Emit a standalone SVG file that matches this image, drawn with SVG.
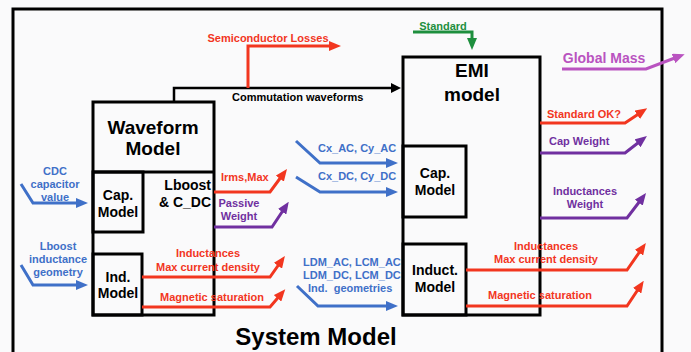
<svg xmlns="http://www.w3.org/2000/svg" width="691" height="352" viewBox="0 0 691 352">
<style>
text{font-family:"Liberation Sans",Arial,sans-serif;font-weight:bold}
.box{fill:none;stroke:#000;stroke-width:3}
.big{font-size:19px;fill:#000}
.mid{font-size:14px;fill:#000}
.sm{font-size:11px}
.c{text-anchor:middle}
.e{text-anchor:end}
.red{fill:#f2361f}.blue{fill:#3f70c8}.pur{fill:#7030a0}.mag{fill:#b953c0}.grn{fill:#1e8f3e}.blk{fill:#000}
.lr{fill:none;stroke:#f2361f;stroke-width:3;marker-end:url(#ar)}
.lb{fill:none;stroke:#3f70c8;stroke-width:3;marker-end:url(#ab)}
.lp{fill:none;stroke:#7030a0;stroke-width:3;marker-end:url(#ap)}
.lm{fill:none;stroke:#b953c0;stroke-width:3;marker-end:url(#am)}
.lg{fill:none;stroke:#1e8f3e;stroke-width:3;marker-end:url(#ag)}
.lk{fill:none;stroke:#000;stroke-width:2.5;marker-end:url(#ak)}
</style>
<defs>
<marker id="ar" markerUnits="userSpaceOnUse" markerWidth="12" markerHeight="10" refX="7" refY="5" orient="auto"><path d="M0,0 L12,5 L0,10 z" fill="#f2361f"/></marker>
<marker id="ab" markerUnits="userSpaceOnUse" markerWidth="12" markerHeight="10" refX="7" refY="5" orient="auto"><path d="M0,0 L12,5 L0,10 z" fill="#3f70c8"/></marker>
<marker id="ap" markerUnits="userSpaceOnUse" markerWidth="12" markerHeight="10" refX="7" refY="5" orient="auto"><path d="M0,0 L12,5 L0,10 z" fill="#7030a0"/></marker>
<marker id="am" markerUnits="userSpaceOnUse" markerWidth="12" markerHeight="10" refX="7" refY="5" orient="auto"><path d="M0,0 L12,5 L0,10 z" fill="#b953c0"/></marker>
<marker id="ag" markerUnits="userSpaceOnUse" markerWidth="12" markerHeight="10" refX="7" refY="5" orient="auto"><path d="M0,0 L12,5 L0,10 z" fill="#1e8f3e"/></marker>
<marker id="ak" markerUnits="userSpaceOnUse" markerWidth="10" markerHeight="10" refX="6" refY="5" orient="auto"><path d="M0,0 L10,5 L0,10 z" fill="#000"/></marker>
</defs>
<rect x="0" y="0" width="691" height="352" fill="#fafafb"/>
<g id="system">
<rect class="box" x="13" y="9" width="649" height="370"/>
<text class="c" x="316" y="345" style="font-size:24px">System Model</text>
</g>
<g id="waveform-model">
<rect class="box" x="93" y="102" width="121" height="213"/>
<line class="box" x1="93" y1="172" x2="214" y2="172"/>
<text class="big c" x="153" y="134">Waveform</text>
<text class="big c" x="153" y="155">Model</text>
<text class="mid e" x="211" y="190">Lboost</text>
<text class="mid e" x="211" y="207">&amp; C_DC</text>
</g>
<g id="wf-cap-model">
<rect class="box" x="93" y="172" width="50" height="60"/>
<text class="mid c" x="118" y="200">Cap.</text>
<text class="mid c" x="118" y="217">Model</text>
</g>
<g id="wf-ind-model">
<rect class="box" x="93" y="254" width="49" height="61"/>
<text class="mid c" x="118" y="282">Ind.</text>
<text class="mid c" x="118" y="298">Model</text>
</g>
<g id="emi-model">
<rect class="box" x="403" y="57" width="137" height="258"/>
<text class="big c" x="472" y="77">EMI</text>
<text class="big c" x="472" y="101">model</text>
</g>
<g id="emi-cap-model">
<rect class="box" x="403" y="146" width="63" height="71"/>
<text class="mid c" x="435" y="178">Cap.</text>
<text class="mid c" x="435" y="195">Model</text>
</g>
<g id="emi-induct-model">
<rect class="box" x="403" y="244" width="63" height="71"/>
<text class="mid c" x="435" y="275">Induct.</text>
<text class="mid c" x="435" y="292">Model</text>
</g>
<g id="connectors">
<path class="lk" d="M174,102 V88 H397"/>
<path class="lr" d="M248,88 V46 H336"/>
<path class="lg" d="M413,32 H472 V45"/>
<path class="lm" d="M562,69 H646 L680,56"/>
<path class="lr" d="M540,123 H625 L643,111"/>
<path class="lp" d="M540,153 H625 L643,139"/>
<path class="lp" d="M540,218 H627 L643,197"/>
<path class="lr" d="M466,270 H627 L643,247"/>
<path class="lr" d="M466,306 H627 L641,285"/>
<path class="lr" d="M214,192 H270 L284,173"/>
<path class="lp" d="M214,227 H272 L286,206"/>
<path class="lr" d="M142,277 H270 L282,260"/>
<path class="lr" d="M142,307 H270 L282,293"/>
<path class="lb" d="M21,184 L33,203 H83"/>
<path class="lb" d="M21,265 L33,285 H83"/>
<path class="lb" d="M296,141 L320,163 H393"/>
<path class="lb" d="M296,177 L320,192 H393"/>
<path class="lb" d="M297,286 L318,306 H393"/>
</g>
<g id="labels">
<text class="sm red c" x="268" y="42">Semiconductor Losses</text>
<text class="sm blk" x="232" y="101">Commutation waveforms</text>
<text class="sm grn c" x="443" y="30">Standard</text>
<text class="mag c" x="604" y="63" style="font-size:14px">Global Mass</text>
<text class="sm red" x="547" y="118">Standard OK?</text>
<text class="sm pur" x="549" y="145">Cap Weight</text>
<text class="sm pur c" x="585" y="195">Inductances</text>
<text class="sm pur c" x="585" y="208">Weight</text>
<text class="sm red c" x="546" y="250">Inductances</text>
<text class="sm red c" x="546" y="263">Max current density</text>
<text class="sm red c" x="540" y="299">Magnetic saturation</text>
<text class="sm red" x="221" y="181">Irms,Max</text>
<text class="sm pur c" x="239" y="207">Passive</text>
<text class="sm pur c" x="239" y="220">Weight</text>
<text class="sm red c" x="208" y="257">Inductances</text>
<text class="sm red c" x="208" y="271">Max current density</text>
<text class="sm red c" x="212" y="301">Magnetic saturation</text>
<text class="sm blue" x="318" y="152">Cx_AC, Cy_AC</text>
<text class="sm blue" x="318" y="180">Cx_DC, Cy_DC</text>
<text class="sm blue" x="303" y="266">LDM_AC, LCM_AC</text>
<text class="sm blue" x="303" y="279">LDM_DC, LCM_DC</text>
<text class="sm blue" x="308" y="292" xml:space="preserve">Ind.  geometries</text>
<text class="sm blue c" x="55" y="175">CDC</text>
<text class="sm blue c" x="55" y="188">capacitor</text>
<text class="sm blue c" x="55" y="201">value</text>
<text class="sm blue c" x="58" y="250">Lboost</text>
<text class="sm blue c" x="58" y="263">inductance</text>
<text class="sm blue c" x="58" y="276">geometry</text>
</g>
</svg>
